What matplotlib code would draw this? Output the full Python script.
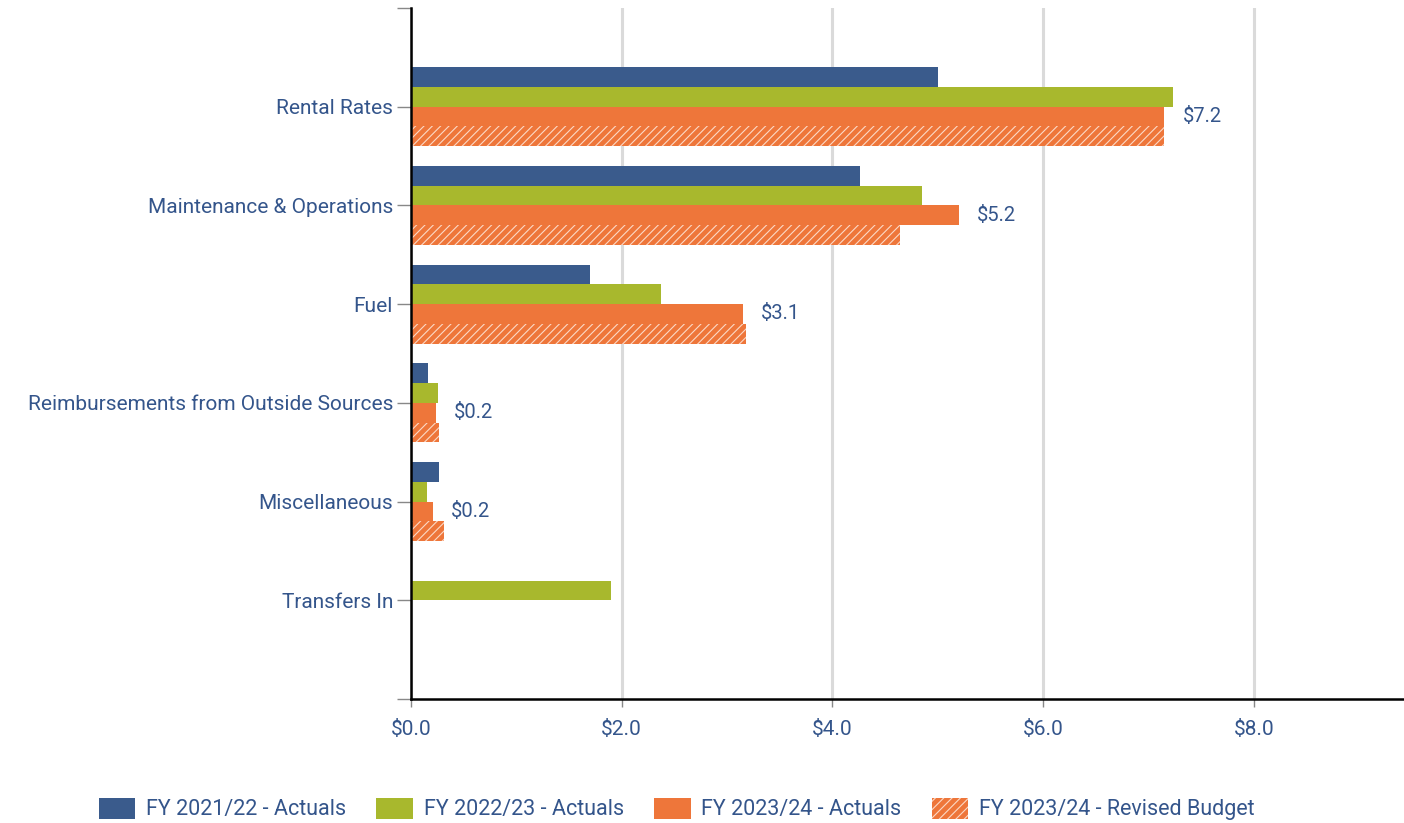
import matplotlib
matplotlib.use("Agg")
import matplotlib.pyplot as plt
import numpy as np

plt.rcParams["font.family"] = ["Roboto", "DejaVu Sans"]
plt.rcParams["hatch.linewidth"] = 0.8

# Data ($ millions)
categories = [
    "Rental Rates",
    "Maintenance & Operations",
    "Fuel",
    "Reimbursements from Outside Sources",
    "Miscellaneous",
    "Transfers In",
]
fy2122_actuals = [5.00, 4.26, 1.70, 0.16, 0.27, 0.0]
fy2223_actuals = [7.23, 4.85, 2.37, 0.26, 0.15, 1.90]
fy2324_actuals = [7.15, 5.20, 3.15, 0.24, 0.21, 0.0]
fy2324_revised = [7.15, 4.64, 3.18, 0.27, 0.31, 0.0]
value_labels = ["$7.2", "$5.2", "$3.1", "$0.2", "$0.2", ""]

series_names = [
    "FY 2021/22 - Actuals",
    "FY 2022/23 - Actuals",
    "FY 2023/24 - Actuals",
    "FY 2023/24 - Revised Budget",
]
x_ticks = [0, 2, 4, 6, 8]
x_tick_labels = ["$0.0", "$2.0", "$4.0", "$6.0", "$8.0"]

BLUE = "#3A5B8C"
GREEN = "#A8B82D"
ORANGE = "#EE763A"
TEXT = "#34558B"

fig = plt.figure(figsize=(14.04, 8.23), dpi=100)
ax = fig.add_axes([0.2927, 0.1507, 0.7063, 0.8396])

y = np.arange(len(categories))
h = 0.2
ax.barh(y - 0.3, fy2122_actuals, height=h, color=BLUE, zorder=3, label=series_names[0])
ax.barh(y - 0.1, fy2223_actuals, height=h, color=GREEN, zorder=3, label=series_names[1])
ax.barh(y + 0.1, fy2324_actuals, height=h, color=ORANGE, zorder=3, label=series_names[2])
ax.barh(y + 0.3, fy2324_revised, height=h, facecolor=ORANGE, edgecolor="#FBD9C6",
        hatch="////", linewidth=0, zorder=3, label=series_names[3])

# value labels next to the FY 2023/24 actuals bar
for yi, val, lab in zip(y, fy2324_actuals, value_labels):
    if lab:
        ax.annotate(lab, xy=(val, yi + 0.1), xytext=(13, 0), textcoords="offset points",
                    va="center", ha="left", fontsize=14.5, color=TEXT)

ax.set_xlim(0, 9.41)
ax.set_ylim(6.0, -0.98)

ax.set_xticks(x_ticks)
ax.set_xticklabels(x_tick_labels)
ax.set_yticks(list(range(-1, len(categories) + 1)))
ax.set_yticklabels([""] + categories + [""])

ax.tick_params(axis="y", length=10, width=1, color="#888888", labelsize=15,
               labelcolor=TEXT, pad=3)
ax.tick_params(axis="x", length=6, width=1, color="#888888", labelsize=15,
               labelcolor=TEXT, pad=9)

ax.grid(axis="x", color="#DADADA", linewidth=2.2, zorder=0)
ax.set_axisbelow(True)
for s in ["top", "right"]:
    ax.spines[s].set_visible(False)
for s in ["left", "bottom"]:
    ax.spines[s].set_color("black")
    ax.spines[s].set_linewidth(1.8)
    ax.spines[s].set_zorder(4)

handles, labels = ax.get_legend_handles_labels()
leg = fig.legend(handles, labels, loc="center", bbox_to_anchor=(0.482, 0.017), ncol=4,
                 frameon=False, fontsize=15.5, handlelength=1.7, handleheight=1.15,
                 columnspacing=1.4, handletextpad=0.5)
for t in leg.get_texts():
    t.set_color(TEXT)

fig.savefig("out.png", dpi=100)
